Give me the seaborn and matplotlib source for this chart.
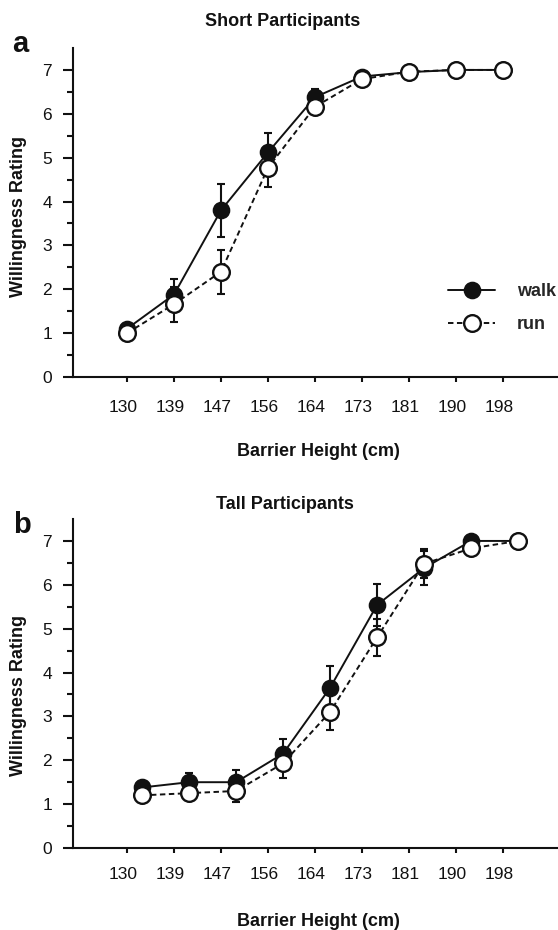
import numpy as np
import pandas as pd
import matplotlib
matplotlib.use("Agg")
import matplotlib.pyplot as plt
import matplotlib.transforms as mtransforms
from matplotlib.ticker import FixedLocator
import seaborn as sns

# ---------------- data ----------------
heights = ["130", "139", "147", "156", "164", "173", "181", "190", "198"]

short_walk = [1.10, 1.88, 3.80, 5.12, 6.38, 6.85, 6.95, 7.00, 7.00]
short_walk_err = [0.08, 0.35, 0.60, 0.45, 0.18, 0.05, 0.03, 0.00, 0.00]
short_run = [1.00, 1.66, 2.40, 4.77, 6.16, 6.79, 6.96, 7.00, 7.00]
short_run_err = [0.10, 0.40, 0.50, 0.44, 0.12, 0.08, 0.05, 0.00, 0.00]

tall_walk = [1.38, 1.50, 1.50, 2.15, 3.65, 5.54, 6.38, 7.00, 7.00]
tall_walk_err = [0.15, 0.22, 0.27, 0.33, 0.50, 0.47, 0.38, 0.05, 0.00]
tall_run = [1.20, 1.25, 1.30, 1.93, 3.10, 4.80, 6.48, 6.83, 7.00]
tall_run_err = [0.10, 0.10, 0.25, 0.33, 0.40, 0.42, 0.33, 0.08, 0.00]

conditions = ["walk", "run"]
panel_titles = ["Short Participants", "Tall Participants"]
panel_letters = ["a", "b"]
x_label = "Barrier Height (cm)"
y_label = "Willingness Rating"
y_ticks = [0, 1, 2, 3, 4, 5, 6, 7]

# ---------------- style ----------------
sns.set_theme(style="ticks")
plt.rcParams["font.family"] = ["Liberation Sans", "DejaVu Sans"]
ink = "#111111"

W, H = 558, 930
fig = plt.figure(figsize=(W / 100, H / 100), dpi=100)


def fx(px):
    return px / W


def fy(py):
    return 1 - py / H


panels = [
    dict(top=48, bottom=377, walk=short_walk, walk_err=short_walk_err,
         run=short_run, run_err=short_run_err, shift=0.0, xpad=13,
         title_xy=(283, 26), xlabel_xy=(318, 456), ylabel_xy=(19, 216),
         letter_xy=(20, 52), legend=True),
    dict(top=519, bottom=848, walk=tall_walk, walk_err=tall_walk_err,
         run=tall_run, run_err=tall_run_err, shift=0.32, xpad=10,
         title_xy=(285, 509), xlabel_xy=(318, 926), ylabel_xy=(19, 695),
         letter_xy=(22, 533), legend=False),
]

tick_px0, tick_step = 127, 47

for i, p in enumerate(panels):
    ax = fig.add_axes([fx(73), fy(p["bottom"]), fx(558) - fx(73),
                       (p["bottom"] - p["top"]) / H])
    n = len(heights)
    xpos = np.arange(n) + p["shift"]
    df = pd.DataFrame({
        "pos": np.concatenate([xpos, xpos]),
        "rating": list(p["walk"]) + list(p["run"]),
        "err": list(p["walk_err"]) + list(p["run_err"]),
        "condition": [conditions[0]] * n + [conditions[1]] * n,
    })
    dw = df[df.condition == "walk"]
    dr = df[df.condition == "run"]

    ax.errorbar(dw.pos, dw.rating, yerr=dw.err, fmt="none", ecolor=ink,
                elinewidth=1.5, capsize=3, capthick=1.5, zorder=2)
    ax.errorbar(dr.pos, dr.rating, yerr=dr.err, fmt="none", ecolor=ink,
                elinewidth=1.5, capsize=3, capthick=1.5, zorder=2)

    sns.lineplot(data=dw, x="pos", y="rating", ax=ax, color=ink, marker="o",
                 markersize=11.5, markerfacecolor=ink, markeredgecolor=ink,
                 markeredgewidth=1.2, linewidth=1.4, errorbar=None,
                 label="walk", zorder=3)
    sns.lineplot(data=dr, x="pos", y="rating", ax=ax, color=ink, marker="o",
                 markersize=12, markerfacecolor="white", markeredgecolor=ink,
                 markeredgewidth=1.7, linewidth=1.4, linestyle=(0, (2.8, 1.8)),
                 errorbar=None, label="run", zorder=4)

    ax.set_xlim(-(tick_px0 - 73) / tick_step, (558 - tick_px0) / tick_step)
    ax.set_ylim(0, 7.5)
    ax.set_xticks(np.arange(n))
    ax.set_xticklabels(heights)
    ax.set_yticks(y_ticks)
    ax.yaxis.set_minor_locator(FixedLocator(np.arange(0.5, 7.0, 1.0)))
    ax.set_xlabel("")
    ax.set_ylabel("")
    for s in ["top", "right"]:
        ax.spines[s].set_visible(False)
    for s in ["left", "bottom"]:
        ax.spines[s].set_linewidth(1.5)
        ax.spines[s].set_color(ink)
    ax.tick_params(axis="x", direction="out", length=3.6, width=1.5,
                   pad=p["xpad"], labelsize=12.5, color=ink, labelcolor=ink)
    ax.tick_params(axis="y", which="major", direction="out", length=7.2,
                   width=1.5, pad=8, labelsize=12.5, color=ink, labelcolor=ink)
    ax.tick_params(axis="y", which="minor", direction="out", length=4.3,
                   width=1.5, color=ink)
    off = mtransforms.ScaledTranslation(-0.04, 0, fig.dpi_scale_trans)
    for lab in ax.get_xticklabels():
        lab.set_transform(lab.get_transform() + off)

    leg = ax.get_legend()
    if leg is not None:
        leg.remove()
    if p["legend"]:
        handles, labels = ax.get_legend_handles_labels()
        ax.legend(handles, labels, loc="upper left",
                  bbox_to_anchor=(fx(448), fy(283)),
                  bbox_transform=fig.transFigure, frameon=False,
                  borderpad=0, borderaxespad=0, handlelength=34 / 13,
                  handletextpad=1.2, labelspacing=0.9,
                  prop=dict(weight="bold", size=13))

    fig.text(fx(p["title_xy"][0]), fy(p["title_xy"][1]), panel_titles[i],
             ha="center", va="baseline", fontsize=13, weight="bold", color=ink)
    fig.text(fx(p["xlabel_xy"][0]), fy(p["xlabel_xy"][1]), x_label,
             ha="center", va="baseline", fontsize=13, weight="bold", color=ink)
    fig.text(fx(p["ylabel_xy"][0]), fy(p["ylabel_xy"][1]), y_label,
             rotation=90, ha="center", va="center", fontsize=13,
             weight="bold", color=ink)
    fig.text(fx(p["letter_xy"][0]), fy(p["letter_xy"][1]), panel_letters[i],
             ha="center", va="baseline", fontsize=21, weight="bold", color=ink)

fig.savefig("out.png", dpi=100)
